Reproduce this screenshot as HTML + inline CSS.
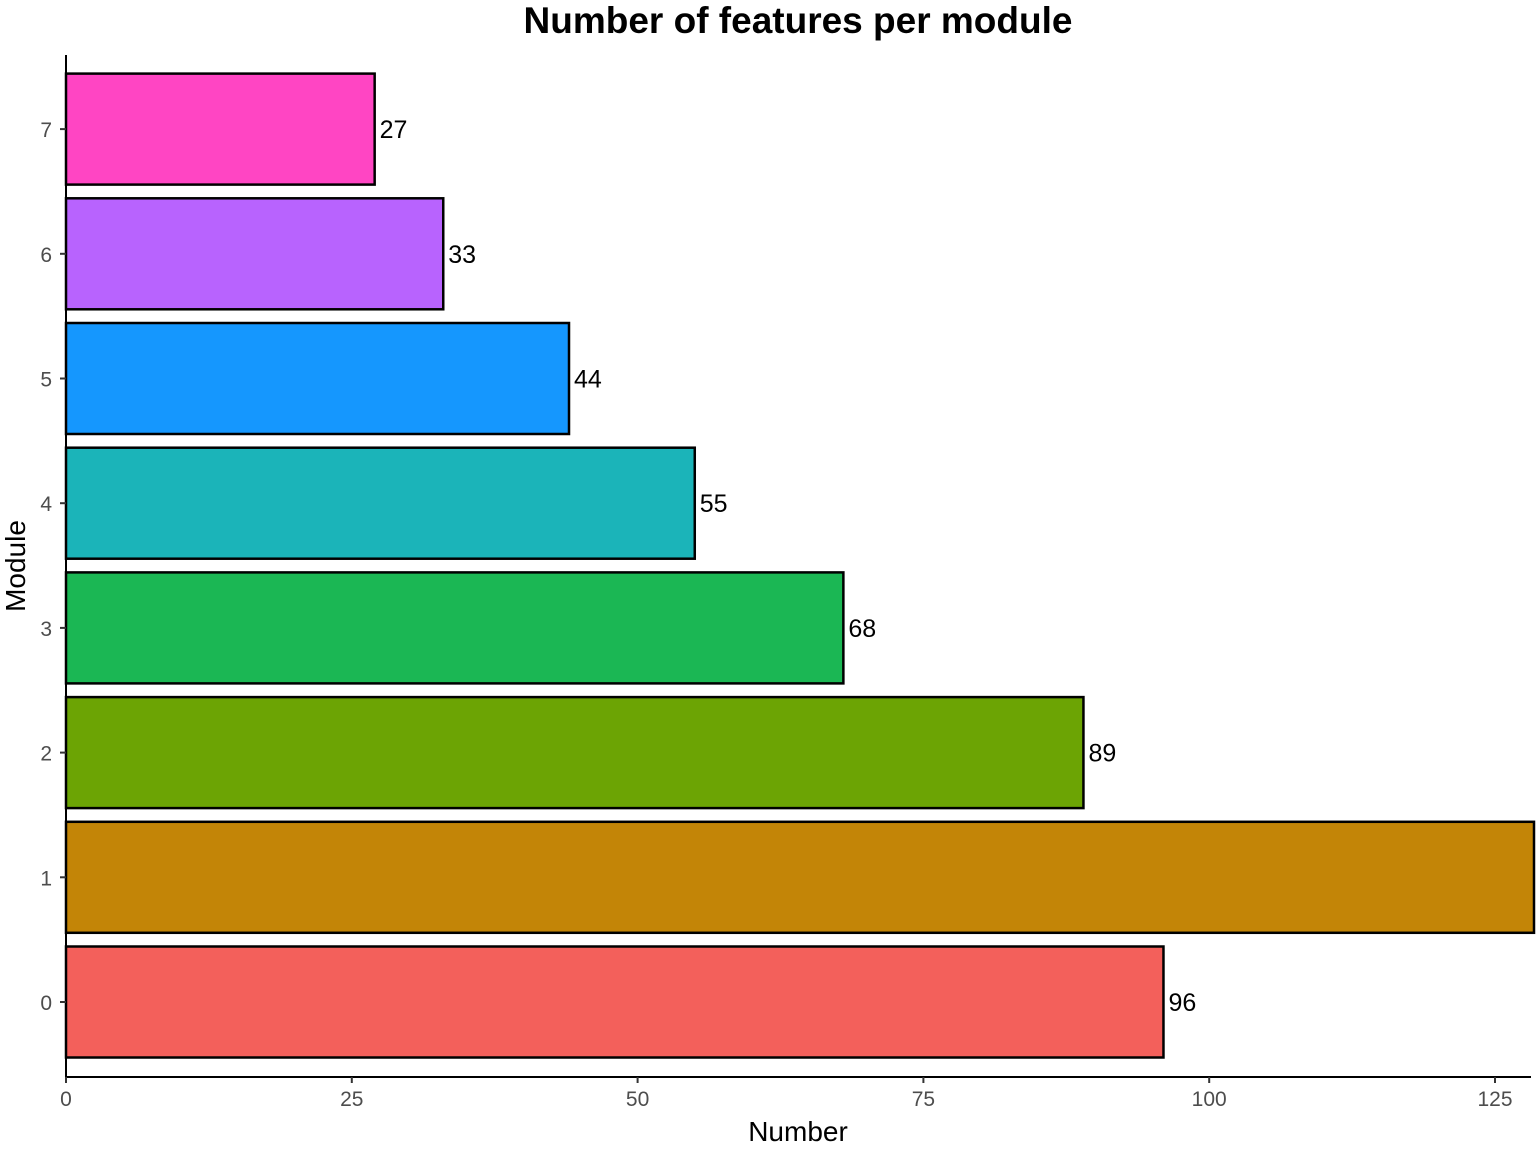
<!DOCTYPE html>
<html><head><meta charset="utf-8"><style>
body{margin:0;background:#fff}
svg{display:block;font-family:"Liberation Sans",Arial,sans-serif}
</style></head><body>
<svg id="chart" width="1536" height="1152">
<text x="798" y="33" text-anchor="middle" font-size="37" font-weight="bold">Number of features per module</text>
<g id="bars"></g>
<line x1="66" y1="55" x2="66" y2="1078" stroke="#000" stroke-width="2"/>
<line x1="65" y1="1077" x2="1531" y2="1077" stroke="#000" stroke-width="2"/>
<g id="xticks"></g><g id="yticks"></g>
<text x="798" y="1141" text-anchor="middle" font-size="28">Number</text>
<text transform="translate(25,566) rotate(-90)" text-anchor="middle" font-size="28">Module</text>
</svg>
<script>
const categories=["0","1","2","3","4","5","6","7"];
const values=[96,140,89,68,55,44,33,27];
const colors=["#F3605B","#C38507","#6CA404","#1BB754","#1BB4B9","#1597FE","#B863FE","#FF45C3"];
const xTicks=[0,25,50,75,100,125];
const NS="http://www.w3.org/2000/svg";
const x0=66,xMax=1530,pxPerUnit=(1495-66)/125;
function xs(v){return x0+v*pxPerUnit;}
function ys(i){return 1002-i*124.7;}
const bars=document.getElementById('bars');
categories.forEach((c,i)=>{
 const r=document.createElementNS(NS,'rect');
 const w=Math.min(xs(values[i]),xMax+4)-x0;
 r.setAttribute('x',x0);r.setAttribute('y',ys(i)-55.5);
 r.setAttribute('width',w);r.setAttribute('height',111);
 r.setAttribute('fill',colors[i]);r.setAttribute('stroke','#000');r.setAttribute('stroke-width','2.5');
 
 
 bars.appendChild(r);
 if(xs(values[i])<xMax-40){
  const t=document.createElementNS(NS,'text');
  t.setAttribute('x',xs(values[i])+5);t.setAttribute('y',ys(i)+9);
  t.setAttribute('font-size','25');t.textContent=values[i];
  
  
  bars.appendChild(t);
 }
 const yt=document.getElementById('yticks');
 const l=document.createElementNS(NS,'line');
 l.setAttribute('x1',60);l.setAttribute('x2',66);l.setAttribute('y1',ys(i));l.setAttribute('y2',ys(i));
 l.setAttribute('stroke','#333');l.setAttribute('stroke-width','2');
 
 
 yt.appendChild(l);
 const tl=document.createElementNS(NS,'text');
 tl.setAttribute('x',52);tl.setAttribute('y',ys(i)+8);tl.setAttribute('text-anchor','end');
 tl.setAttribute('font-size','21');tl.setAttribute('fill','#4d4d4d');tl.textContent=c;
 
 
 yt.appendChild(tl);
});
const xt=document.getElementById('xticks');
xTicks.forEach(v=>{
 const l=document.createElementNS(NS,'line');
 l.setAttribute('x1',xs(v));l.setAttribute('x2',xs(v));l.setAttribute('y1',1077);l.setAttribute('y2',1083);
 l.setAttribute('stroke','#333');l.setAttribute('stroke-width','2');
 
 
 xt.appendChild(l);
 const t=document.createElementNS(NS,'text');
 t.setAttribute('x',xs(v));t.setAttribute('y',1106);t.setAttribute('text-anchor','middle');
 t.setAttribute('font-size','21');t.setAttribute('fill','#4d4d4d');t.textContent=v;
 
 
 xt.appendChild(t);
});
</script>
</body></html>
